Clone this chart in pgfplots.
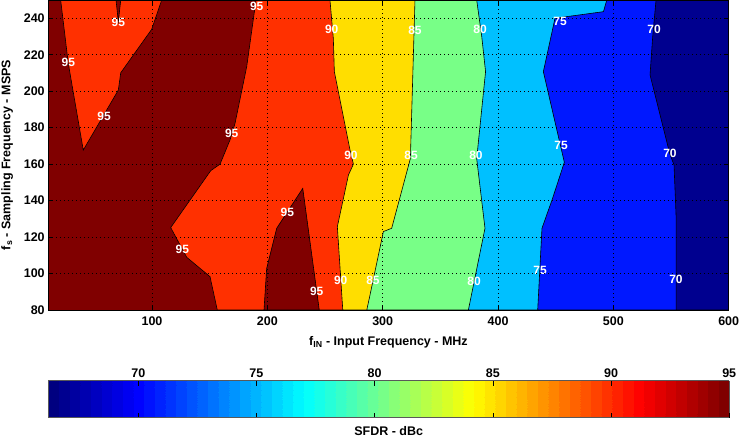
\documentclass[border=0pt]{standalone}
\usepackage{fontspec}
\setmainfont{Liberation Sans}
\usepackage{pgfplots}
\pgfplotsset{compat=1.18}
\pgfplotsset{colormap/jet}
\pgfplotsset{colormap={jetstep}{samples of colormap=(64 of jet)}}

% contour fill colours (matlab jet, 64 steps)
\definecolor{dred}{RGB}{128,0,0}
\definecolor{orng}{RGB}{255,48,0}
\definecolor{yell}{RGB}{255,222,0}
\definecolor{lgrn}{RGB}{120,255,135}
\definecolor{lblu}{RGB}{0,192,255}
\definecolor{blu}{RGB}{0,24,255}
\definecolor{navy}{RGB}{0,0,143}

\newcommand{\lblfont}{\fontsize{12.5bp}{15bp}\selectfont\bfseries}
\newcommand{\clab}[3]{\node[text=white, font=\fontsize{12bp}{14bp}\selectfont\bfseries] at (axis cs:#1,#2) {#3};}

\begin{document}
\begin{tikzpicture}
\begin{axis}[
	name=main,
	scale only axis,
	width=680.5bp, height=310bp,
	xmin=10, xmax=600, ymin=80, ymax=250,
	xtick={100,200,...,600}, ytick={80,100,...,240},
	grid=major,
	grid style={black, line width=0.5bp, dash pattern=on 0.7bp off 3.3bp},
	axis on top,
	tick align=inside, major tick length=5bp,
	axis line style={line width=0.9bp},
	tick style={black, line width=0.6bp},
	/pgf/number format/assume math mode=true,
	tick label style={font=\lblfont},
	xticklabel style={yshift=-3bp},
	label style={font=\lblfont},
	xlabel={f\textsubscript{IN} - Input Frequency - MHz},
	ylabel={f\textsubscript{s} - Sampling Frequency - MSPS},
	xlabel style={at={(axis description cs:0.5,-0.1032)}, anchor=center},
	ylabel style={at={(axis description cs:-0.0603,0.5)}, anchor=center},
	colormap name=jetstep, colormap access=piecewise constant,
	point meta min=66.19, point meta max=95,
	colorbar horizontal,
	colorbar style={
		scale only axis, width=681bp, height=36.7bp,
		at={(parent axis.south west)}, anchor=north west, yshift=-62.3bp,
		xtick={70,75,...,95}, xticklabel pos=upper, xtick pos=both,
		tick align=inside, major tick length=5bp,
		axis line style={gray!70!black, line width=0.8bp},
		tick style={black, line width=0.6bp},
		/pgf/number format/assume math mode=true,
		tick label style={font=\lblfont},
		xlabel={SFDR - dBc},
		xlabel style={at={(axis description cs:0.5,-0.38)}, anchor=center, font=\lblfont},
	},
]

% >= 95 background
\addplot[fill=dred, draw=none] coordinates {(10,80) (600,80) (600,250) (10,250)} -- cycle;
% 90-95
\addplot[fill=orng, draw=black, line width=0.6bp] coordinates {
	(190.2,250) (182.1,213.4) (172,182.4) (167.6,173.2) (159,160) (150.9,156.4)
	(116.2,125.2) (130.1,108.9) (150.3,98.3) (156.6,80) (600,80) (600,250)} -- cycle;
\addplot[fill=orng, draw=black, line width=0.6bp] coordinates {
	(20.8,250) (27.4,215.3) (40.4,167.7) (70.8,200.6) (72.9,210.1) (99.7,233.9) (108.4,250)} -- cycle;
\addplot[fill=dred, draw=black, line width=0.6bp] coordinates {
	(68.8,250) (70.8,238.1) (72.9,250)} -- cycle;
\addplot[fill=dred, draw=black, line width=0.6bp] coordinates {
	(197.1,80) (199.4,102.8) (208.1,124.8) (230.7,146.7) (245,80)} -- cycle;
% 85-90
\addplot[fill=yell, draw=black, line width=0.6bp] coordinates {
	(254.3,250) (257.2,229) (258.1,210.7) (271.7,167.7) (274.6,160) (270.3,154)
	(260.7,125.7) (265.4,80) (600,80) (600,250)} -- cycle;
% 80-85
\addplot[fill=lgrn, draw=black, line width=0.6bp] coordinates {
	(328,250) (324,163) (307.8,124.8) (300.6,123) (289,88.2) (286.2,80) (600,80) (600,250)} -- cycle;
% 75-80
\addplot[fill=lblu, draw=black, line width=0.6bp] coordinates {
	(381.5,250) (385.9,229.9) (389.2,210.7) (381.5,163) (388.7,124.8) (374.3,80) (600,80) (600,250)} -- cycle;
% 70-75
\addplot[fill=blu, draw=black, line width=0.6bp] coordinates {
	(494.3,250) (491.4,243.6) (449.4,240) (439.3,210.7) (457.5,161) (446.8,140.3)
	(438.1,124.8) (434.4,80) (600,80) (600,250)} -- cycle;
% < 70
\addplot[fill=navy, draw=black, line width=0.6bp] coordinates {
	(537,250) (534.1,229.9) (531.8,208.9) (549,165.5) (552.6,159.5) (554.4,131.2)
	(554.4,80) (600,80) (600,250)} -- cycle;

% contour labels
\clab{70.8}{237.6}{95}
\clab{27.4}{215.8}{95}
\clab{58.4}{186}{95}
\clab{169.1}{176.9}{95}
\clab{190.8}{246.7}{95}
\clab{217.3}{133.6}{95}
\clab{126.3}{113.3}{95}
\clab{242.8}{90}{95}
\clab{255.8}{233.9}{90}
\clab{272.5}{165}{90}
\clab{263.6}{96.1}{90}
\clab{328}{233.5}{85}
\clab{324.6}{164.7}{85}
\clab{291.6}{96.4}{85}
\clab{384.4}{233.9}{80}
\clab{380.9}{164.7}{80}
\clab{379.2}{95.5}{80}
\clab{453.8}{238.1}{75}
\clab{454.6}{170.1}{75}
\clab{436.4}{101.9}{75}
\clab{535.3}{233.9}{70}
\clab{549.1}{165.9}{70}
\clab{554.3}{96.8}{70}
\end{axis}
% pin the page to the reference frame (739 x 440)
\pgfresetboundingbox
\path[use as bounding box] ([shift={(-48.2bp,310bp)}]main.south west) rectangle ([shift={(690.8bp,-130bp)}]main.south west);
\end{tikzpicture}
\end{document}
